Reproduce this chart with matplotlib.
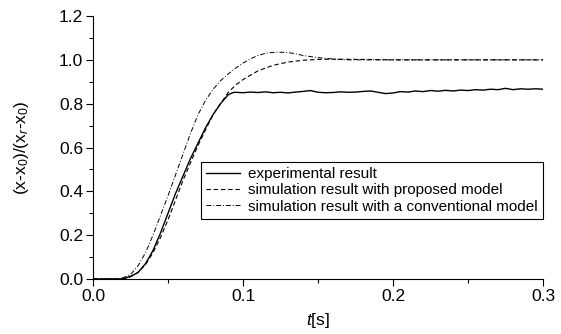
import matplotlib
matplotlib.use("Agg")
import matplotlib.pyplot as plt

plt.rcParams['font.family'] = ['Liberation Sans', 'DejaVu Sans']
plt.rcParams['mathtext.fontset'] = 'custom'
plt.rcParams['mathtext.rm'] = 'Liberation Sans'
plt.rcParams['mathtext.it'] = 'Liberation Sans:italic'

# experimental result
t_exp = [0.0, 0.018, 0.022, 0.026, 0.030, 0.035, 0.040, 0.045, 0.050, 0.055, 0.060,
         0.065, 0.070, 0.075, 0.080, 0.085, 0.090, 0.093,
         0.095, 0.100, 0.105, 0.110, 0.115, 0.120, 0.125, 0.130, 0.135, 0.140,
         0.145, 0.150, 0.155, 0.160, 0.165, 0.170, 0.175, 0.180, 0.185, 0.190,
         0.195, 0.200, 0.205, 0.210, 0.215, 0.220, 0.225, 0.230, 0.235, 0.240,
         0.245, 0.250, 0.255, 0.260, 0.265, 0.270, 0.275, 0.280, 0.285, 0.290,
         0.295, 0.300]
y_exp = [0.0, 0.0, 0.005, 0.015, 0.03, 0.07, 0.13, 0.21, 0.30, 0.39, 0.47,
         0.55, 0.62, 0.69, 0.75, 0.80, 0.84, 0.85,
         0.852, 0.850, 0.853, 0.851, 0.854, 0.850, 0.852, 0.849, 0.853, 0.856,
         0.860, 0.852, 0.850, 0.851, 0.854, 0.852, 0.853, 0.856, 0.858, 0.852,
         0.846, 0.849, 0.855, 0.853, 0.858, 0.855, 0.860, 0.857, 0.861, 0.858,
         0.862, 0.860, 0.864, 0.862, 0.866, 0.864, 0.870, 0.864, 0.868, 0.866,
         0.868, 0.866]

# simulation with proposed model
t_prop = [0.0, 0.020, 0.025, 0.030, 0.035, 0.040, 0.045, 0.050, 0.055, 0.060,
          0.065, 0.070, 0.075, 0.080, 0.085, 0.090, 0.095, 0.100, 0.110, 0.120,
          0.130, 0.140, 0.150, 0.160, 0.180, 0.200, 0.300]
y_prop = [0.0, 0.0, 0.01, 0.03, 0.065, 0.12, 0.19, 0.27, 0.36, 0.45,
          0.53, 0.61, 0.68, 0.75, 0.80, 0.85, 0.885, 0.91, 0.95, 0.975,
          0.99, 0.998, 1.002, 1.003, 1.002, 1.0, 1.0]

# simulation with a conventional model
t_conv = [0.0, 0.018, 0.025, 0.030, 0.035, 0.040, 0.045, 0.050, 0.055, 0.060,
          0.065, 0.070, 0.075, 0.080, 0.085, 0.090, 0.095, 0.100, 0.105, 0.110,
          0.115, 0.120, 0.125, 0.130, 0.135, 0.140, 0.150, 0.160, 0.170, 0.200,
          0.300]
y_conv = [0.0, 0.0, 0.02, 0.06, 0.12, 0.20, 0.29, 0.38, 0.475, 0.57,
          0.665, 0.75, 0.815, 0.865, 0.905, 0.935, 0.962, 0.985, 1.005, 1.02,
          1.03, 1.034, 1.035, 1.033, 1.028, 1.02, 1.01, 1.004, 1.0, 1.0,
          1.0]

labels = ["experimental result",
          "simulation result with proposed model",
          "simulation result with a conventional model"]

fig = plt.figure(figsize=(5.61, 3.34), dpi=100)
ax = fig.add_axes([0.1658, 0.1647, 0.8022, 0.7873])

ax.plot(t_exp, y_exp, color='black', lw=1.0, label=labels[0])
ax.plot(t_prop, y_prop, color='black', lw=0.8, linestyle=(0, (4, 2.5)), label=labels[1])
ax.plot(t_conv, y_conv, color='black', lw=0.7, linestyle=(0, (5, 2, 1, 2)), label=labels[2])

ax.set_xlim(0, 0.3)
ax.set_ylim(0, 1.2)
ax.set_xticks([0.0, 0.1, 0.2, 0.3])
ax.set_xticks([0.05, 0.15, 0.25], minor=True)
ax.set_yticks([0.0, 0.2, 0.4, 0.6, 0.8, 1.0, 1.2])
ax.set_yticks([0.1, 0.3, 0.5, 0.7, 0.9, 1.1], minor=True)
ax.set_xticklabels(['0.0', '0.1', '0.2', '0.3'])
ax.set_yticklabels(['0.0', '0.2', '0.4', '0.6', '0.8', '1.0', '1.2'])
ax.tick_params(axis='both', which='major', direction='out', length=5, width=0.8, labelsize=12.5, pad=2)
ax.tick_params(axis='both', which='minor', direction='out', length=3, width=0.8)

ax.spines['top'].set_visible(False)
ax.spines['right'].set_visible(False)

ax.set_xlabel('$t$[s]', fontsize=12.5, labelpad=5)
ax.set_ylabel('(x-x$_0$)/(x$_r$-x$_0$)', fontsize=12.5, labelpad=20)

leg = ax.legend(loc='upper right', bbox_to_anchor=(0.999, 0.446), fontsize=11,
                frameon=True, fancybox=False, edgecolor='black', framealpha=1,
                handlelength=2.2, handletextpad=0.5, labelspacing=0.15,
                borderpad=0.35, borderaxespad=0)
leg.get_frame().set_linewidth(0.8)

fig.savefig('out.png', dpi=100)
